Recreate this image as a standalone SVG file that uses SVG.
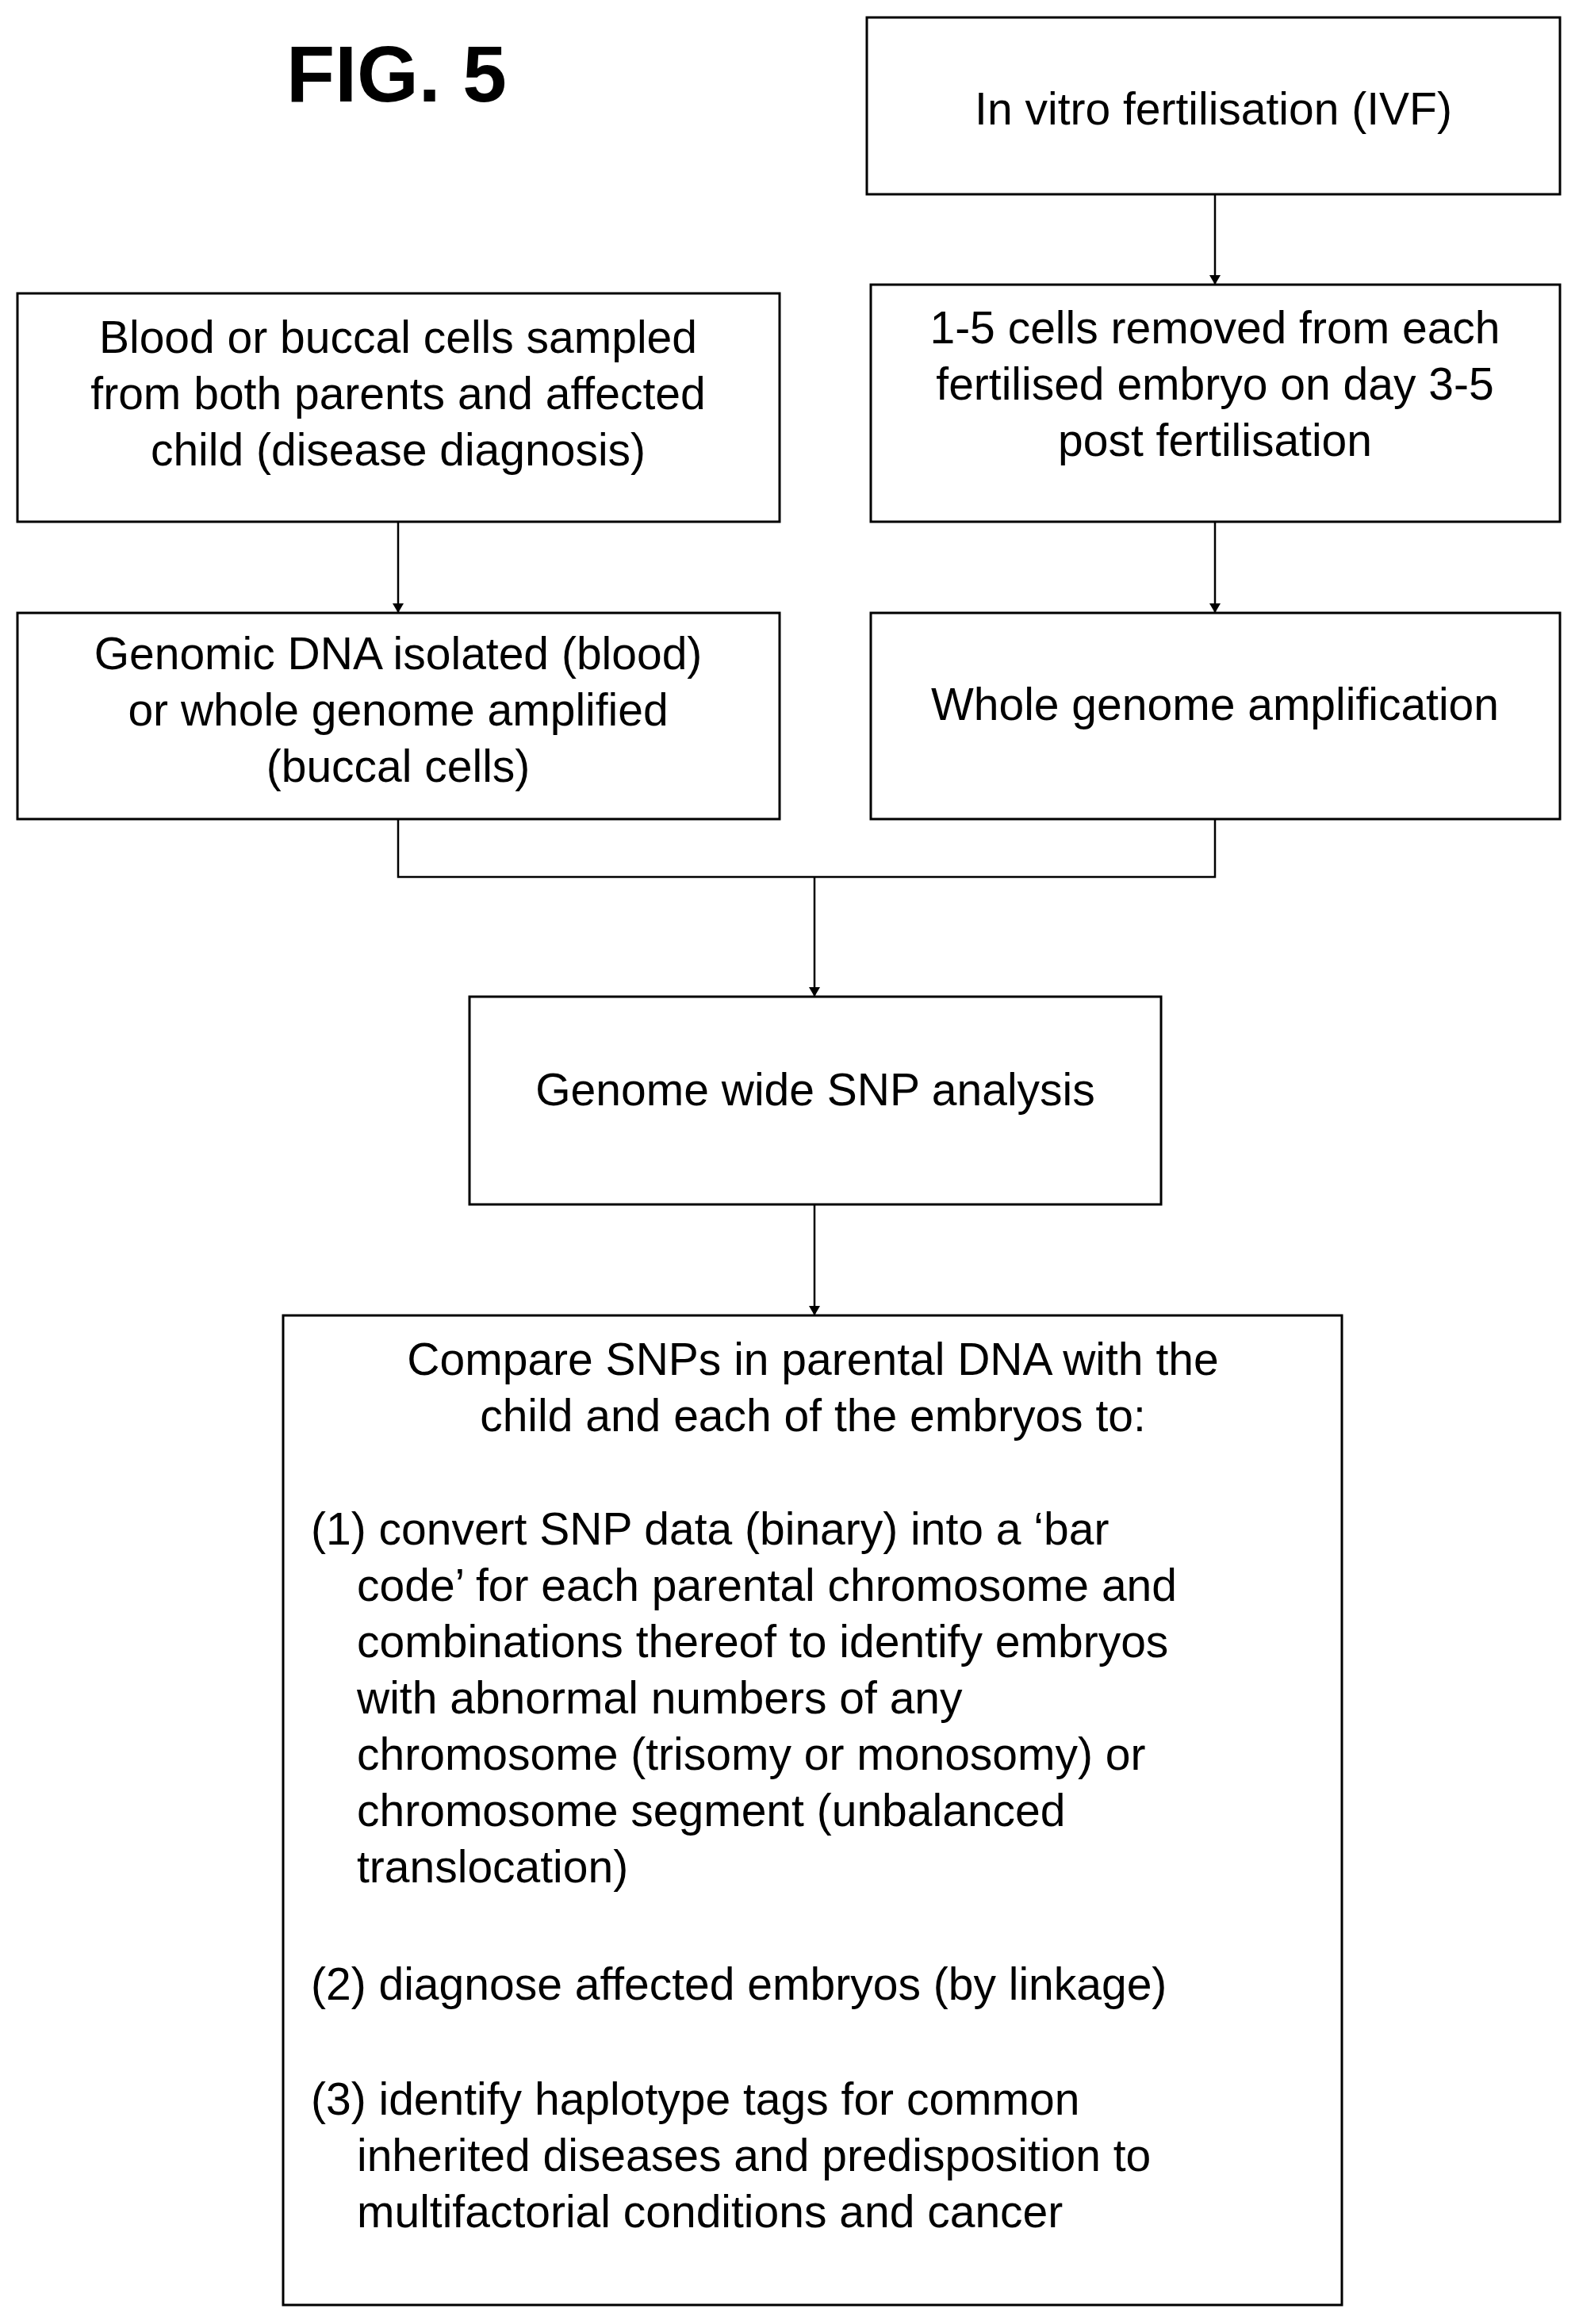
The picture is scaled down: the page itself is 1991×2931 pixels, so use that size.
<svg xmlns="http://www.w3.org/2000/svg" width="1991" height="2931" viewBox="0 0 1991 2931">
<style>
.b{fill:#fff;stroke:#000;stroke-width:3}
.t{font-family:"Liberation Sans",Arial,sans-serif;font-size:57px;fill:#000}
.c{text-anchor:middle}
.l{fill:none;stroke:#000;stroke-width:2.5}
</style>
<defs><marker id="a" markerWidth="12" markerHeight="14" refX="11" refY="7" orient="auto" markerUnits="userSpaceOnUse"><path d="M0,0L12,7L0,14z" fill="#000"/></marker></defs>
<rect width="1991" height="2931" fill="#fff"/>
<text x="500" y="128" class="c" font-family="Liberation Sans,Arial,sans-serif" font-weight="bold" font-size="100">FIG. 5</text>
<g id="ivf"><rect class="b" x="1093" y="22" width="874" height="223"/><text class="t c" x="1530" y="157">In vitro fertilisation (IVF)</text></g>
<g id="cells"><rect class="b" x="1098" y="359" width="869" height="299"/><text class="t c" x="1532" y="433">1-5 cells removed from each</text><text class="t c" x="1532" y="504">fertilised embryo on day 3-5</text><text class="t c" x="1532" y="575">post fertilisation</text></g>
<g id="blood"><rect class="b" x="22" y="370" width="961" height="288"/><text class="t c" x="502" y="445">Blood or buccal cells sampled</text><text class="t c" x="502" y="516">from both parents and affected</text><text class="t c" x="502" y="587">child (disease diagnosis)</text></g>
<g id="genomic"><rect class="b" x="22" y="773" width="961" height="260"/><text class="t c" x="502" y="844">Genomic DNA isolated (blood)</text><text class="t c" x="502" y="915">or whole genome amplified</text><text class="t c" x="502" y="986">(buccal cells)</text></g>
<g id="wga"><rect class="b" x="1098" y="773" width="869" height="260"/><text class="t c" x="1532" y="908">Whole genome amplification</text></g>
<g id="snp"><rect class="b" x="592" y="1257" width="872" height="262"/><text class="t c" x="1028" y="1394">Genome wide SNP analysis</text></g>
<g id="compare"><rect class="b" x="357" y="1659" width="1335" height="1248"/>
<text class="t c" x="1025" y="1734">Compare SNPs in parental DNA with the</text>
<text class="t c" x="1025" y="1805">child and each of the embryos to:</text>
<text class="t" x="392" y="1948">(1) convert SNP data (binary) into a ‘bar</text>
<text class="t" x="450" y="2019">code’ for each parental chromosome and</text>
<text class="t" x="450" y="2090">combinations thereof to identify embryos</text>
<text class="t" x="450" y="2161">with abnormal numbers of any</text>
<text class="t" x="450" y="2232">chromosome (trisomy or monosomy) or</text>
<text class="t" x="450" y="2303">chromosome segment (unbalanced</text>
<text class="t" x="450" y="2374">translocation)</text>
<text class="t" x="392" y="2522">(2) diagnose affected embryos (by linkage)</text>
<text class="t" x="392" y="2667">(3) identify haplotype tags for common</text>
<text class="t" x="450" y="2738">inherited diseases and predisposition to</text>
<text class="t" x="450" y="2809">multifactorial conditions and cancer</text>
</g>
<g id="connectors">
<line class="l" x1="1532" y1="245" x2="1532" y2="358" marker-end="url(#a)"/>
<line class="l" x1="502" y1="658" x2="502" y2="772" marker-end="url(#a)"/>
<line class="l" x1="1532" y1="658" x2="1532" y2="772" marker-end="url(#a)"/>
<path class="l" d="M502,1033V1106H1532V1033"/>
<line class="l" x1="1027" y1="1106" x2="1027" y2="1256" marker-end="url(#a)"/>
<line class="l" x1="1027" y1="1519" x2="1027" y2="1658" marker-end="url(#a)"/>
</g>
</svg>
